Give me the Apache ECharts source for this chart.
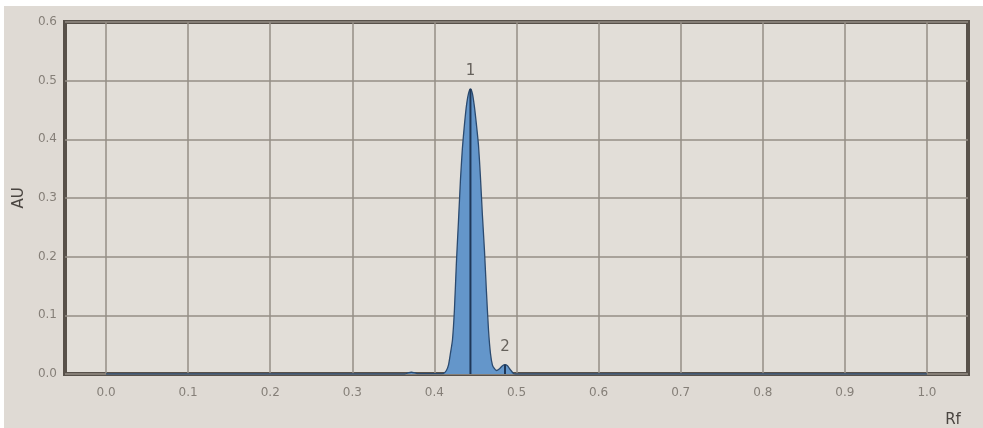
<!DOCTYPE html>
<html>
<head>
<meta charset="utf-8">
<script src="https://cdn.jsdelivr.net/npm/echarts@6/dist/echarts.min.js"></script>
<style>
  html, body { margin: 0; padding: 0; background: #ffffff; }
  #chart { position: absolute; left: 4px; top: 6px; width: 979px; height: 422px; background: #dfdad4; }
</style>
</head>
<body>
<div id="chart"></div>
<script>
// 扫描曲线数据 (Rf, AU)
const rfValues = [0.00, 0.30, 0.364, 0.368, 0.372, 0.376, 0.380, 0.406,
  0.4110, 0.4146, 0.4171, 0.4195, 0.4220, 0.4244, 0.4268, 0.4293, 0.4317, 0.4341, 0.4366, 0.4390, 0.4415,
  0.4439,
  0.4463, 0.4488, 0.4512, 0.4537, 0.4561, 0.4585, 0.4610, 0.4634, 0.4659, 0.4683, 0.4707, 0.4732,
  0.4756, 0.4793, 0.4829, 0.4860, 0.4890, 0.4927, 0.4963, 0.4988, 0.60, 1.00]
const auValues = [0, 0, 0, 0.002, 0.003, 0.002, 0.0005, 0.0005,
  0.001, 0.006, 0.015, 0.035, 0.058, 0.11, 0.19, 0.26, 0.33, 0.385, 0.425, 0.457, 0.478,
  0.486,
  0.478, 0.455, 0.425, 0.39, 0.335, 0.27, 0.21, 0.14, 0.075, 0.035, 0.015, 0.009,
  0.006, 0.009, 0.014, 0.016, 0.014, 0.007, 0.001, 0, 0, 0]
// 峰
const peakNames = ['1', '2']
const peakRf = [0.4439, 0.4860]
const peakAu = [0.486, 0.016]
// 刻度
const xTicks = [0.0, 0.1, 0.2, 0.3, 0.4, 0.5, 0.6, 0.7, 0.8, 0.9, 1.0]

const curve = rfValues.map((v, i) => [v, auValues[i]])
const gridColor = '#958e86'
const labelColor = '#857f78'

let myChart = echarts.init(document.getElementById('chart'))
let option = {
  animation: false,
  grid: {
    left: 61, right: 15, top: 16, bottom: 54,
    outerBoundsMode: 'none',
    show: true,
    borderColor: '#58514a',
    borderWidth: 4,
    backgroundColor: '#e2ded8'
  },
  xAxis: {
    type: 'value',
    min: -0.05,
    max: 1.05,
    name: 'Rf',
    nameLocation: 'end',
    nameGap: -15,
    nameTextStyle: { color: '#4a4541', fontSize: 15, fontFamily: 'DejaVu Sans', align: 'center', verticalAlign: 'top', padding: [39, 0, 0, 0] },
    axisLine: { show: false },
    axisTick: { show: false, customValues: xTicks },
    axisLabel: {
      customValues: xTicks,
      color: labelColor, fontSize: 12, fontFamily: 'DejaVu Sans', margin: 13,
      formatter: v => v.toFixed(1)
    },
    splitLine: { show: true, lineStyle: { color: gridColor, width: 1.5 } }
  },
  yAxis: {
    type: 'value',
    min: 0,
    max: 0.6,
    interval: 0.1,
    name: 'AU',
    nameLocation: 'middle',
    nameGap: 38,
    nameTextStyle: { color: '#4a4541', fontSize: 15, fontFamily: 'DejaVu Sans' },
    axisLine: { show: false },
    axisTick: { show: false },
    axisLabel: { color: labelColor, fontSize: 12, fontFamily: 'DejaVu Sans', margin: 8, formatter: v => v.toFixed(1) },
    splitLine: { show: true, lineStyle: { color: gridColor, width: 1.5 } }
  },
  series: [
    {
      type: 'line',
      data: curve,
      smooth: 0.2,
      showSymbol: false,
      lineStyle: { color: '#2b4a6f', width: 1.3 },
      areaStyle: { color: '#6496ca', opacity: 1 },
      z: 3
    },
    // 峰位竖线
    ...peakRf.map((x, i) => ({
      type: 'line',
      data: [[x, 0], [x, peakAu[i]]],
      showSymbol: false,
      lineStyle: { color: '#1f3757', width: 2 },
      z: 4
    })),
    // 峰号
    {
      type: 'scatter',
      data: peakRf.map((x, i) => [x, peakAu[i], peakNames[i]]),
      symbolSize: 0,
      label: {
        show: true,
        position: 'top',
        distance: 10,
        formatter: p => p.value[2],
        color: '#47423d',
        fontSize: 15,
        fontFamily: 'DejaVu Sans'
      },
      z: 5
    }
  ]
}
myChart.setOption(option)
</script>
</body>
</html>
